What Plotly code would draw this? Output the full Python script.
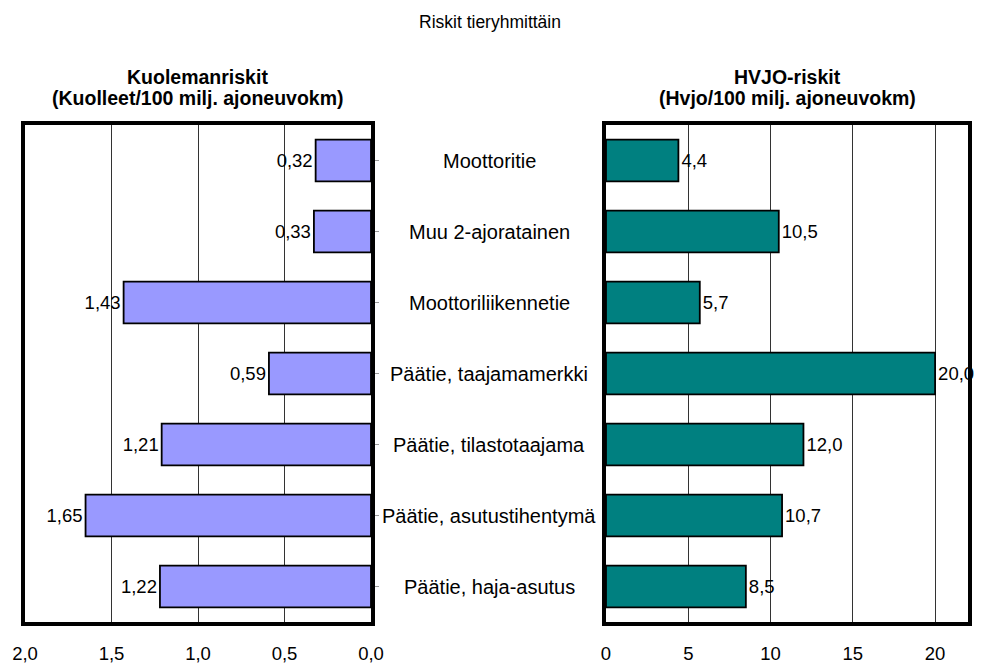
import plotly.graph_objects as go

# Road categories, top to bottom
categories = [
    "Moottoritie",
    "Muu 2-ajoratainen",
    "Moottoriliikennetie",
    "Päätie, taajamamerkki",
    "Päätie, tilastotaajama",
    "Päätie, asutustihentymä",
    "Päätie, haja-asutus",
]

# Fatality risk (killed / 100 million vehicle-km)
kuolemanriskit = [0.32, 0.33, 1.43, 0.59, 1.21, 1.65, 1.22]
# Injury risk (injured / 100 million vehicle-km)
hvjo_riskit = [4.4, 10.5, 5.7, 20.0, 12.0, 10.7, 8.5]

W, H = 986, 664
FONT = "Liberation Sans, Arial, sans-serif"

fig = go.Figure()

fig.add_trace(go.Bar(
    y=categories, x=kuolemanriskit, orientation="h",
    marker=dict(color="#9999FF", line=dict(color="black", width=1.8)),
    texttemplate="%{x:.2f}", textposition="outside", cliponaxis=False,
    constraintext="none",
    textfont=dict(family=FONT, size=18.5, color="black"),
    xaxis="x", yaxis="y", showlegend=False, hoverinfo="skip",
))

fig.add_trace(go.Bar(
    y=categories, x=hvjo_riskit, orientation="h",
    marker=dict(color="#008080", line=dict(color="black", width=1.8)),
    texttemplate="%{x:.1f}", textposition="outside", cliponaxis=False,
    constraintext="none",
    textfont=dict(family=FONT, size=18.5, color="black"),
    xaxis="x2", yaxis="y2", showlegend=False, hoverinfo="skip",
))

left_dom = [25 / W, 371 / W]
right_dom = [606 / W, 968 / W]
y_dom = [1 - 622 / H, 1 - 125 / H]

frame = dict(showline=True, linecolor="black", linewidth=4, mirror=True,
             zeroline=False, automargin=False)
grid = dict(showgrid=True, gridcolor="#333333", gridwidth=1)
tickfont = dict(family=FONT, size=18.5, color="black")

fig.update_layout(
    width=W, height=H,
    margin=dict(l=0, r=0, t=0, b=0),
    paper_bgcolor="white", plot_bgcolor="white",
    separators=", ",
    bargap=0.41,
    font=dict(family=FONT, color="black"),
    xaxis=dict(domain=left_dom, range=[2, 0], dtick=0.5, tick0=0, tickformat=".1f",
               ticks="", ticklabelstandoff=12, tickfont=tickfont, anchor="y",
               **frame, **grid),
    xaxis2=dict(domain=right_dom, range=[0, 22], dtick=5, tick0=0, tickformat="d",
                ticks="", ticklabelstandoff=12, tickfont=tickfont, anchor="y2",
                **frame, **grid),
    # short tick marks along the top edge of each panel
    xaxis3=dict(overlaying="x", side="top", anchor="y", range=[2, 0], dtick=0.5, tick0=0,
                ticks="outside", ticklen=7, tickcolor="#666666", tickwidth=1,
                showticklabels=False, showgrid=False, showline=False, zeroline=False,
                automargin=False),
    xaxis4=dict(overlaying="x2", side="top", anchor="y2", range=[0, 22], dtick=5, tick0=0,
                ticks="outside", ticklen=7, tickcolor="#666666", tickwidth=1,
                showticklabels=False, showgrid=False, showline=False, zeroline=False,
                automargin=False),
    yaxis=dict(domain=y_dom, anchor="x", autorange="reversed", side="right",
               ticks="outside", ticklen=4, tickcolor="#999999", showticklabels=False,
               showgrid=False, **frame),
    yaxis2=dict(domain=y_dom, anchor="x2", autorange="reversed",
                ticks="", showticklabels=False, showgrid=False, **frame),
)


def paper_text(text, x, y_px, size, bold=False):
    return dict(text=f"<b>{text}</b>" if bold else text, x=x, y=1 - y_px / H,
                xref="paper", yref="paper", showarrow=False,
                font=dict(family=FONT, size=size), xanchor="center", yanchor="middle")


left_c = (left_dom[0] + left_dom[1]) / 2
right_c = (right_dom[0] + right_dom[1]) / 2
annotations = [
    paper_text("Riskit tieryhmittäin", 0.497, 22, 17.5),
    paper_text("Kuolemanriskit", left_c, 77, 19.5, bold=True),
    paper_text("(Kuolleet/100 milj. ajoneuvokm)", left_c, 98, 19.5, bold=True),
    paper_text("HVJO-riskit", right_c, 77, 19.5, bold=True),
    paper_text("(Hvjo/100 milj. ajoneuvokm)", right_c, 98, 19.5, bold=True),
]
for cat in categories:
    annotations.append(dict(text=cat, x=0.496, y=cat, xref="paper", yref="y",
                            showarrow=False, font=dict(family=FONT, size=20),
                            xanchor="center", yanchor="middle"))
fig.update_layout(annotations=annotations)

fig.write_html("out.html")
